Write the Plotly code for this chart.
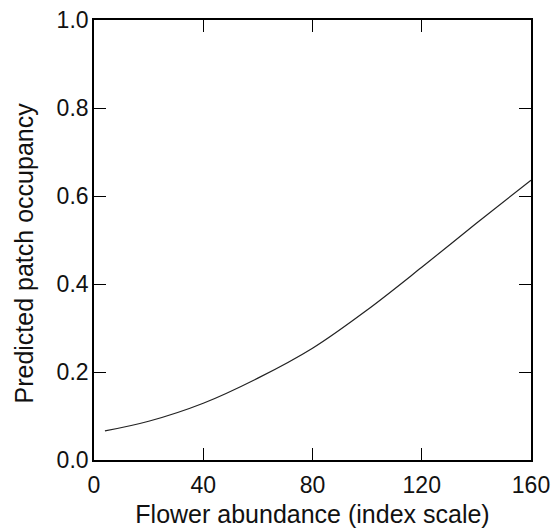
import plotly.graph_objects as go

flower_abundance = [4, 20, 40, 60, 80, 100, 120, 140, 160]
predicted_occupancy = [0.066, 0.088, 0.129, 0.186, 0.254, 0.341, 0.438, 0.538, 0.636]

x_ticks = [0, 40, 80, 120, 160]
y_ticks = [0.0, 0.2, 0.4, 0.6, 0.8, 1.0]

font_family = "Liberation Sans, Arial, sans-serif"

fig = go.Figure()
fig.add_trace(go.Scatter(
    x=flower_abundance, y=predicted_occupancy, mode="lines",
    line=dict(color="#222222", width=1.2, shape="spline"),
    showlegend=False, hoverinfo="skip",
))

axis_common = dict(
    showline=True, linecolor="black", linewidth=1.6, mirror="ticks",
    ticks="inside", ticklen=12, tickwidth=1.4, tickcolor="black",
    showgrid=False, zeroline=False, automargin=False,
    tickfont=dict(family=font_family, size=23, color="#111111"),
)

fig.update_layout(
    width=553, height=530,
    margin=dict(l=94, r=22, t=20, b=70),
    paper_bgcolor="white", plot_bgcolor="white",
    font=dict(family=font_family, size=23, color="#111111"),
    xaxis=dict(
        range=[0, 160], tickvals=x_ticks, ticktext=[str(v) for v in x_ticks],
        ticklabelstandoff=4,
        title=dict(text="Flower abundance (index scale)", standoff=8,
                   font=dict(family=font_family, size=25)),
        **axis_common,
    ),
    yaxis=dict(
        range=[0, 1.0], tickvals=y_ticks, ticktext=[f"{v:.1f}" for v in y_ticks],
        ticklabelstandoff=-1,
        **axis_common,
    ),
    annotations=[dict(
        text="Predicted patch occupancy", textangle=-90,
        xref="paper", yref="paper", x=(23 - 94) / 437, y=(460 - 253.5) / 440,
        xanchor="center", yanchor="middle", showarrow=False,
        font=dict(family=font_family, size=25, color="#111111"),
    )],
)

fig.write_html("out.html")
